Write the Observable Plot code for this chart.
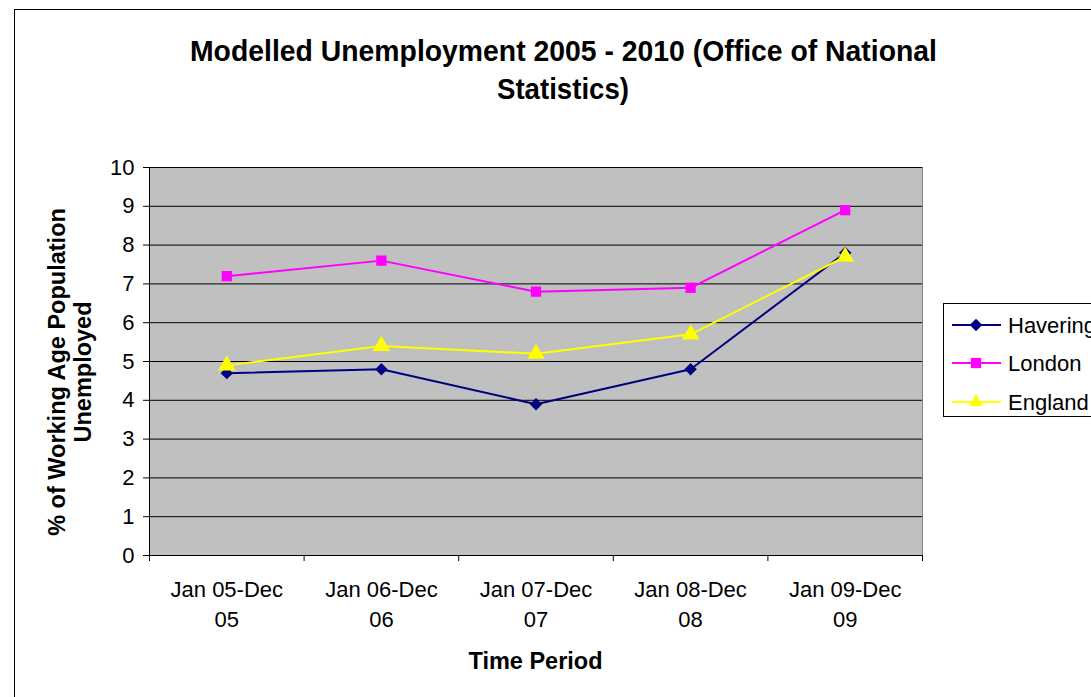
<!DOCTYPE html>
<html>
<head>
<meta charset="utf-8">
<script src="https://cdn.jsdelivr.net/npm/d3@7"></script>
<script src="https://cdn.jsdelivr.net/npm/@observablehq/plot@0.6"></script>
<style>
  html, body { margin: 0; padding: 0; background: white; }
  #wrap { position: relative; width: 1091px; height: 697px; overflow: hidden; background: white;
          font-family: "Liberation Sans", Arial, sans-serif; }
  #border { position: absolute; left: 14px; top: 9px; width: 1200px; height: 800px;
            border-left: 1px solid #000; border-top: 1px solid #000; }
  #chart { position: absolute; left: 0; top: 0; }
  #overlay { position: absolute; left: 0; top: 0; }
</style>
</head>
<body>
<div id="wrap">
  <div id="border"></div>
  <div id="chart"></div>
  <svg id="overlay" width="1091" height="697"></svg>
</div>
<script>
// ---- data ----
const tickLabels = ["Jan 05-Dec\n05", "Jan 06-Dec\n06", "Jan 07-Dec\n07", "Jan 08-Dec\n08", "Jan 09-Dec\n09"];
const havering = [4.7, 4.8, 3.9, 4.8, 7.8];
const london   = [7.2, 7.6, 6.8, 6.9, 8.9];
const england  = [4.9, 5.4, 5.2, 5.7, 7.7];
const seriesNames = ["Havering", "London", "England"];
const yTicks = [0, 1, 2, 3, 4, 5, 6, 7, 8, 9, 10];

const titleLines = ["Modelled Unemployment 2005 - 2010 (Office of National", "Statistics)"];
const yTitleLines = ["% of Working Age Population", "Unemployed"];
const xTitle = "Time Period";

const series = [
  {name: seriesNames[0], values: havering, color: "#000080", symbol: "diamond2", r: 5.6},
  {name: seriesNames[1], values: london,   color: "#FF00FF", symbol: "square",   r: 5.8},
  {name: seriesNames[2], values: england,  color: "#FFFF00", symbol: "triangle", r: 6.5}
];
const rows = s => s.values.map((v, i) => ({i: i + 0.5, v, name: s.name}));

const font = '"Liberation Sans", Arial, sans-serif';

const marks = [
  Plot.frame({fill: "#c0c0c0", stroke: "#808080"}),
  Plot.ruleY(yTicks, {stroke: "#000", strokeWidth: 1}),
  Plot.ruleX([0], {stroke: "#000", strokeWidth: 1}),
  Plot.axisY({ticks: yTicks, tickSize: 6, tickPadding: 9, fontSize: 22, label: null, tickFormat: d => String(d)}),
  Plot.axisX({ticks: [0, 1, 2, 3, 4, 5], tickSize: 6, tickFormat: () => "", label: null}),
  Plot.axisX({ticks: tickLabels.map((_, i) => i + 0.5), tickSize: 0, tickPadding: 20, fontSize: 22,
              lineHeight: 1.38, label: null, tickFormat: d => tickLabels[Math.floor(d)]})
];
for (const s of series) {
  marks.push(Plot.line(rows(s), {x: "i", y: "v", stroke: s.color, strokeWidth: 2}));
}
for (const s of series) {
  marks.push(Plot.dot(rows(s), {x: "i", y: "v", fill: s.color, stroke: "none", symbol: s.symbol, r: s.r}));
}

const chart = Plot.plot({
  width: 1091,
  height: 697,
  marginLeft: 149,
  marginRight: 169,
  marginTop: 167,
  marginBottom: 142,
  x: {domain: [0, tickLabels.length]},
  y: {domain: [0, 10]},
  style: {fontFamily: font, fontSize: "22px", color: "#000", background: "transparent", overflow: "visible"},
  marks
});
document.getElementById("chart").appendChild(chart);

// ---- titles and legend overlay ----
const ov = d3.select("#overlay");
ov.append("text").attr("x", 563.5).attr("y", 61).attr("text-anchor", "middle")
  .attr("font-family", font).attr("font-weight", "bold").attr("font-size", 29)
  .attr("textLength", 747).attr("lengthAdjust", "spacingAndGlyphs").text(titleLines[0]);
ov.append("text").attr("x", 563).attr("y", 99).attr("text-anchor", "middle")
  .attr("font-family", font).attr("font-weight", "bold").attr("font-size", 29)
  .attr("textLength", 132).attr("lengthAdjust", "spacingAndGlyphs").text(titleLines[1]);

const yg = ov.append("g").attr("transform", "translate(0,372) rotate(-90)");
yg.append("text").attr("x", 0).attr("y", 65).attr("text-anchor", "middle")
  .attr("font-family", font).attr("font-weight", "bold").attr("font-size", 23.5).text(yTitleLines[0]);
yg.append("text").attr("x", 0).attr("y", 91).attr("text-anchor", "middle")
  .attr("font-family", font).attr("font-weight", "bold").attr("font-size", 23.5).text(yTitleLines[1]);

ov.append("text").attr("x", 535.5).attr("y", 669).attr("text-anchor", "middle")
  .attr("font-family", font).attr("font-weight", "bold").attr("font-size", 23.5).text(xTitle);

// legend
ov.append("rect").attr("x", 943.5).attr("y", 303.5).attr("width", 200).attr("height", 113)
  .attr("fill", "white").attr("stroke", "#000").attr("stroke-width", 1);
const legendY = [325, 363, 402];
series.forEach((s, k) => {
  const cy = legendY[k];
  ov.append("line").attr("x1", 952).attr("x2", 1001).attr("y1", cy).attr("y2", cy)
    .attr("stroke", s.color).attr("stroke-width", 2);
  const symType = s.symbol === "diamond2" ? d3.symbolDiamond2 : s.symbol === "square" ? d3.symbolSquare : d3.symbolTriangle2;
  ov.append("path").attr("transform", `translate(976,${cy})`)
    .attr("d", d3.symbol(symType, Math.PI * s.r * s.r)()).attr("fill", s.color);
  ov.append("text").attr("x", 1008).attr("y", cy + 8).attr("font-family", font).attr("font-size", 22)
    .text(s.name);
});
</script>
</body>
</html>
